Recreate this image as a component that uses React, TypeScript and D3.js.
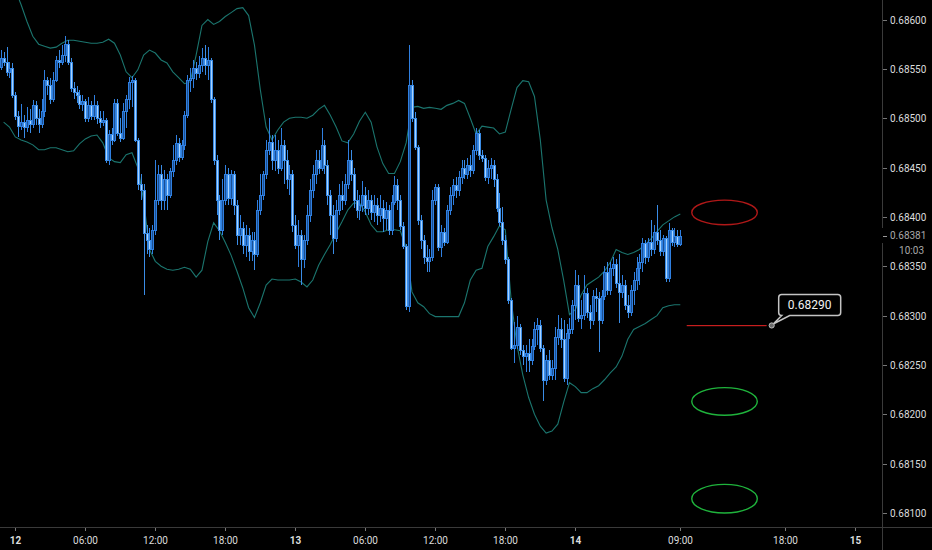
import React from "react";
import * as d3 from "d3";

// price = BASE_PRICE + value * PIP
const BASE_PRICE = 0.68;
const PIP = 1e-5;
const FIRST_BAR_UTC = Date.UTC(2023, 5, 11, 22, 45);
const BAR_MS = 15 * 60 * 1000;
const FIRST_OPEN = 552;

const closePts = [
  561, 557, 547, 551, 524, 502, 492, 496, 491, 498,
  494, 513, 500, 494, 507, 539, 534, 519, 539, 559,
  557, 564, 575, 557, 531, 527, 523, 514, 517, 500,
  513, 502, 513, 500, 496, 498, 458, 484, 478, 515,
  485, 480, 507, 519, 537, 539, 478, 433, 427, 384,
  377, 367, 387, 417, 443, 417, 438, 422, 446, 458,
  475, 461, 473, 503, 539, 541, 551, 546, 554, 561,
  554, 559, 519, 458, 417, 387, 417, 443, 419, 443,
  412, 382, 389, 372, 382, 365, 377, 362, 407, 422,
  443, 468, 476, 458, 468, 450, 473, 458, 438, 443,
  392, 372, 382, 357, 377, 402, 427, 443, 458, 450,
  473, 453, 422, 402, 379, 407, 422, 417, 433, 458,
  443, 417, 407, 412, 422, 409, 417, 405, 412, 402,
  409, 399, 407, 387, 415, 432, 417, 391, 371, 310,
  534, 500, 471, 397, 377, 359, 355, 359, 417, 430,
  369, 385, 375, 407, 422, 432, 427, 440, 450, 443,
  453, 448, 468, 485, 463, 460, 440, 450, 453, 438,
  409, 395, 377, 357, 316, 267, 270, 288, 265, 259,
  262, 255, 269, 286, 290, 267, 235, 255, 240, 247,
  278, 286, 276, 237, 282, 286, 311, 331, 298, 301,
  323, 304, 296, 320, 318, 296, 320, 344, 326, 348,
  352, 333, 324, 331, 311, 304, 326, 336, 348, 354,
  374, 359, 375, 367, 385, 377, 365, 379, 338, 387,
  375, 381, 373, 381,
];

const highPts = [
  569, 567, 572, 557, 556, 527, 507, 514, 503, 511,
  509, 518, 517, 509, 519, 549, 542, 541, 547, 563,
  569, 574, 583, 579, 561, 537, 533, 529, 524, 519,
  521, 517, 524, 517, 507, 507, 500, 488, 490, 519,
  519, 500, 515, 524, 542, 543, 541, 480, 443, 433,
  392, 389, 392, 458, 453, 453, 448, 443, 450, 473,
  483, 480, 478, 507, 544, 551, 559, 557, 563, 571,
  574, 572, 561, 521, 463, 422, 438, 453, 450, 448,
  446, 417, 402, 395, 392, 389, 385, 385, 417, 443,
  446, 478, 500, 483, 483, 478, 490, 478, 468, 453,
  448, 402, 397, 387, 382, 412, 438, 453, 468, 468,
  490, 478, 458, 427, 412, 417, 433, 436, 443, 478,
  468, 450, 427, 422, 436, 430, 427, 422, 422, 419,
  422, 417, 415, 412, 422, 441, 438, 422, 395, 373,
  574, 539, 506, 473, 402, 382, 372, 367, 427, 433,
  433, 392, 389, 412, 430, 438, 440, 446, 458, 458,
  460, 463, 473, 490, 488, 468, 463, 458, 460, 458,
  443, 424, 410, 382, 359, 318, 294, 300, 291, 270,
  270, 276, 276, 294, 298, 296, 270, 260, 265, 255,
  288, 301, 298, 296, 291, 298, 316, 346, 341, 316,
  341, 328, 311, 326, 328, 324, 326, 350, 354, 354,
  359, 357, 362, 341, 336, 321, 331, 344, 359, 362,
  379, 377, 379, 397, 392, 412, 387, 382, 381, 394,
  389, 389, 387, 387,
];

const lowPts = [
  549, 553, 543, 541, 520, 498, 481, 488, 480, 486,
  485, 490, 493, 485, 490, 501, 524, 514, 516, 537,
  551, 554, 557, 554, 527, 519, 515, 509, 507, 496,
  496, 498, 498, 494, 490, 492, 455, 453, 473, 476,
  482, 476, 478, 490, 509, 511, 476, 427, 417, 321,
  362, 359, 362, 382, 412, 407, 407, 407, 419, 440,
  453, 456, 458, 468, 500, 527, 531, 539, 541, 547,
  544, 539, 515, 453, 402, 377, 382, 412, 412, 412,
  402, 372, 372, 362, 359, 355, 355, 346, 359, 402,
  417, 438, 463, 448, 446, 443, 446, 433, 428, 422,
  385, 367, 349, 331, 348, 372, 395, 419, 433, 443,
  446, 443, 412, 382, 362, 375, 402, 407, 412, 428,
  436, 409, 399, 397, 405, 402, 402, 397, 395, 392,
  395, 385, 387, 382, 382, 412, 407, 387, 367, 306,
  304, 496, 468, 392, 367, 352, 344, 344, 355, 412,
  365, 359, 371, 373, 402, 412, 419, 421, 433, 438,
  438, 440, 443, 463, 458, 456, 436, 433, 438, 430,
  405, 391, 372, 352, 312, 265, 252, 266, 260, 250,
  243, 243, 250, 265, 270, 263, 213, 230, 235, 235,
  235, 270, 267, 233, 230, 276, 281, 296, 294, 286,
  296, 298, 286, 290, 304, 263, 291, 316, 321, 321,
  340, 328, 292, 318, 306, 298, 300, 311, 326, 331,
  344, 352, 354, 360, 362, 372, 360, 360, 334, 334,
  371, 369, 369, 371,
];

// Bollinger bands, sampled every 30 minutes
const BAND_FIRST_UTC = Date.UTC(2023, 5, 11, 23, 0);
const BAND_STEP_MS = 30 * 60 * 1000;
const upperBandPts = [
  666, 648, 630, 615, 598, 583, 575, 573, 571, 572,
  576, 579, 579, 578, 577, 576, 576, 577, 580, 576,
  564, 547, 541, 549, 564, 569, 566, 559, 556, 547,
  541, 535, 537, 564, 594, 600, 595, 598, 603, 607,
  611, 612, 604, 574, 529, 491, 478, 488, 496, 500,
  501, 501, 500, 503, 509, 513, 503, 491, 477, 475,
  484, 497, 506, 496, 471, 454, 444, 444, 456, 475,
  511, 512, 510, 511, 510, 509, 513, 515, 518, 515,
  500, 484, 492, 491, 490, 484, 486, 509, 531, 538,
  537, 522, 478, 417, 389, 367, 336, 301, 306, 321,
  331, 335, 339, 345, 354, 367, 364, 362, 364, 367,
  372, 378, 385, 392, 396, 400, 403,
];
const lowerBandPts = [
  496, 491, 481, 478, 476, 473, 468, 468, 470, 470,
  468, 466, 467, 474, 479, 482, 483, 475, 460, 456,
  455, 463, 465, 450, 417, 367, 355, 350, 347, 346,
  347, 349, 347, 339, 346, 375, 394, 386, 374, 361,
  345, 328, 308, 298, 313, 331, 337, 336, 336, 336,
  337, 334, 329, 336, 351, 362, 372, 384, 395, 407,
  414, 414, 405, 392, 385, 385, 387, 387, 386, 369,
  324, 313, 309, 302, 299, 299, 299, 299, 299, 313,
  336, 346, 348, 370, 380, 391, 387, 316, 270, 240,
  217, 200, 188, 181, 183, 190, 212, 232, 228, 222,
  222, 226, 229, 235, 242, 248, 259, 276, 286, 289,
  292, 296, 300, 308, 310, 311, 311,
];

const priceTicks = [0.681, 0.6815, 0.682, 0.6825, 0.683, 0.6835, 0.684, 0.6845, 0.685, 0.6855, 0.686];
const timeTicks = [
  "2023-06-12T00:00Z", "2023-06-12T06:00Z", "2023-06-12T12:00Z", "2023-06-12T18:00Z",
  "2023-06-13T00:00Z", "2023-06-13T06:00Z", "2023-06-13T12:00Z", "2023-06-13T18:00Z",
  "2023-06-14T00:00Z", "2023-06-14T09:00Z", "2023-06-14T18:00Z", "2023-06-15T00:00Z",
];
const timeTickLabels = ["12", "06:00", "12:00", "18:00", "13", "06:00", "12:00", "18:00", "14", "09:00", "18:00", "15"];

const LAST_PRICE = 0.68381;
const BAR_COUNTDOWN = "10:03";

// drawings
const zoneStart = "2023-06-14T09:59Z";
const zoneEnd = "2023-06-14T15:36Z";
const zoneHigh = [0.68417, 0.68227, 0.68129];
const zoneLow = [0.68392, 0.68199, 0.681];
const zoneKind = ["sell", "buy", "buy"];
const levelPrice = 0.6829;
const levelStart = "2023-06-14T09:33Z";
const levelEnd = "2023-06-14T16:24Z";
const labelAnchorTime = "2023-06-14T16:50Z";

const W = 932;
const H = 550;
const PLOT_R = 882;
const PLOT_B = 527;

const UP_FILL = "#1b4f92";
const UP_STROKE = "#2f7fe0";
const DOWN_FILL = "#a9d3ff";
const DOWN_STROKE = "#3a8ce6";
const BAND = "#1b756e";
const AXIS_LINE = "#3a3a3a";
const TEXT = "#dcdcdc";

export default function App() {
  const x = d3
    .scaleUtc()
    .domain([new Date("2023-06-12T00:00Z"), new Date("2023-06-15T00:00Z")])
    .range([15.3, 855.3]);
  const y = d3.scaleLinear().domain([0.681, 0.686]).range([513, 19.5]);
  const toPrice = (v: number) => BASE_PRICE + v * PIP;

  const bars = closePts.map((c, i) => ({
    t: new Date(FIRST_BAR_UTC + i * BAR_MS),
    o: toPrice(i === 0 ? FIRST_OPEN : closePts[i - 1]),
    h: toPrice(highPts[i]),
    l: toPrice(lowPts[i]),
    c: toPrice(c),
  }));
  const upper = upperBandPts.map((v, j) => ({ t: new Date(BAND_FIRST_UTC + j * BAND_STEP_MS), v: toPrice(v) }));
  const lower = lowerBandPts.map((v, j) => ({ t: new Date(BAND_FIRST_UTC + j * BAND_STEP_MS), v: toPrice(v) }));
  const line = d3
    .line<{ t: Date; v: number }>()
    .x((d) => x(d.t))
    .y((d) => y(d.v));

  const zx0 = x(new Date(zoneStart));
  const zx1 = x(new Date(zoneEnd));
  const lvY = y(levelPrice);
  const lvX0 = x(new Date(levelStart));
  const lvX1 = x(new Date(levelEnd));
  const ax = x(new Date(labelAnchorTime));
  const ay = lvY;
  const bL = ax + 7;
  const bR = ax + 69;
  const bT = ay - 31;
  const bB = ay - 10;
  const r = 3;
  const callout = `M${bL + r},${bT} H${bR - r} Q${bR},${bT} ${bR},${bT + r} V${bB - r} Q${bR},${bB} ${bR - r},${bB} H${bL + 11} L${ax + 1.5},${ay - 1.5} L${bL + r},${bB} Q${bL},${bB} ${bL},${bB - r} V${bT + r} Q${bL},${bT} ${bL + r},${bT} Z`;

  const lastY = y(LAST_PRICE);

  return (
    <svg
      width={W}
      height={H}
      style={{ position: "absolute", left: 0, top: 0, display: "block" }}
      fontFamily="Roboto, 'Open Sans', sans-serif"
    >
      <defs>
        <clipPath id="plotClip">
          <rect x={0} y={0} width={PLOT_R} height={PLOT_B} />
        </clipPath>
      </defs>
      <rect x={0} y={0} width={W} height={H} fill="#000" />

      <g clipPath="url(#plotClip)">
        <path d={line(upper) || ""} fill="none" stroke={BAND} strokeWidth={1.1} />
        <path d={line(lower) || ""} fill="none" stroke={BAND} strokeWidth={1.1} />

        {bars.map((b, i) => {
          const cx = Math.round(x(b.t)) + 0.5;
          const up = b.c >= b.o;
          const yTop = Math.round(y(Math.max(b.o, b.c))) + 0.5;
          let yBot = Math.round(y(Math.min(b.o, b.c))) + 0.5;
          if (yBot - yTop < 1) yBot = yTop + 1;
          const st = up ? UP_STROKE : DOWN_STROKE;
          return (
            <g key={i}>
              <line x1={cx} x2={cx} y1={Math.round(y(b.h))} y2={Math.round(y(b.l))} stroke={st} strokeWidth={1} />
              <rect x={cx - 1} y={yTop} width={2} height={yBot - yTop} fill={up ? UP_FILL : DOWN_FILL} stroke={st} strokeWidth={1} />
            </g>
          );
        })}

        {zoneHigh.map((hi, k) => {
          const y0 = y(hi);
          const y1 = y(zoneLow[k]);
          return (
            <ellipse
              key={k}
              cx={(zx0 + zx1) / 2}
              cy={(y0 + y1) / 2}
              rx={(zx1 - zx0) / 2}
              ry={(y1 - y0) / 2}
              fill="none"
              stroke={zoneKind[k] === "sell" ? "#b01818" : "#1fb33c"}
              strokeWidth={1.4}
            />
          );
        })}

        <rect x={lvX0} y={Math.round(lvY)} width={lvX1 - lvX0} height={1.2} fill="#c81e1e" />
        <path d={callout} fill="#000" stroke="#c4c4c4" strokeWidth={1.5} />
        <circle cx={ax} cy={ay} r={2.6} fill="#6a6a6a" stroke="#bdbdbd" strokeWidth={1} />
        <text x={(bL + bR) / 2} y={bB - 6} fill="#f2f2f2" fontSize={12} textAnchor="middle">
          {levelPrice.toFixed(5)}
        </text>
      </g>

      {/* axes */}
      <line x1={0} x2={W} y1={PLOT_B + 0.5} y2={PLOT_B + 0.5} stroke={AXIS_LINE} />
      <line x1={PLOT_R + 0.5} x2={PLOT_R + 0.5} y1={0} y2={H} stroke={AXIS_LINE} />

      {priceTicks.map((p) => {
        const ty = Math.round(y(p)) + 0.5;
        return (
          <g key={p}>
            <line x1={PLOT_R + 1} x2={PLOT_R + 5} y1={ty} y2={ty} stroke="#777" />
            <text x={890} y={ty + 3.5} fill={TEXT} fontSize={10}>
              {p.toFixed(5)}
            </text>
          </g>
        );
      })}

      {/* last price label */}
      <rect x={PLOT_R} y={228} width={W - PLOT_R} height={15} fill="#000" />
      <line x1={PLOT_R + 1} x2={PLOT_R + 5} y1={Math.round(lastY) + 0.5} y2={Math.round(lastY) + 0.5} stroke="#999" />
      <text x={890} y={lastY + 3.5} fill="#a8a8a8" fontSize={10}>
        {LAST_PRICE.toFixed(5)}
      </text>
      <text x={924} y={lastY + 18} fill="#a8a8a8" fontSize={10} textAnchor="end">
        {BAR_COUNTDOWN}
      </text>

      {timeTicks.map((t, k) => {
        const tx = Math.round(x(new Date(t))) + 0.5;
        const lab = timeTickLabels[k];
        const isDay = lab.length <= 2;
        return (
          <g key={t}>
            <line x1={tx} x2={tx} y1={PLOT_B + 1} y2={PLOT_B + 4} stroke="#777" />
            <text x={tx} y={543.5} fill={TEXT} fontSize={10} textAnchor="middle" fontWeight={isDay ? 700 : 400}>
              {lab}
            </text>
          </g>
        );
      })}
    </svg>
  );
}
